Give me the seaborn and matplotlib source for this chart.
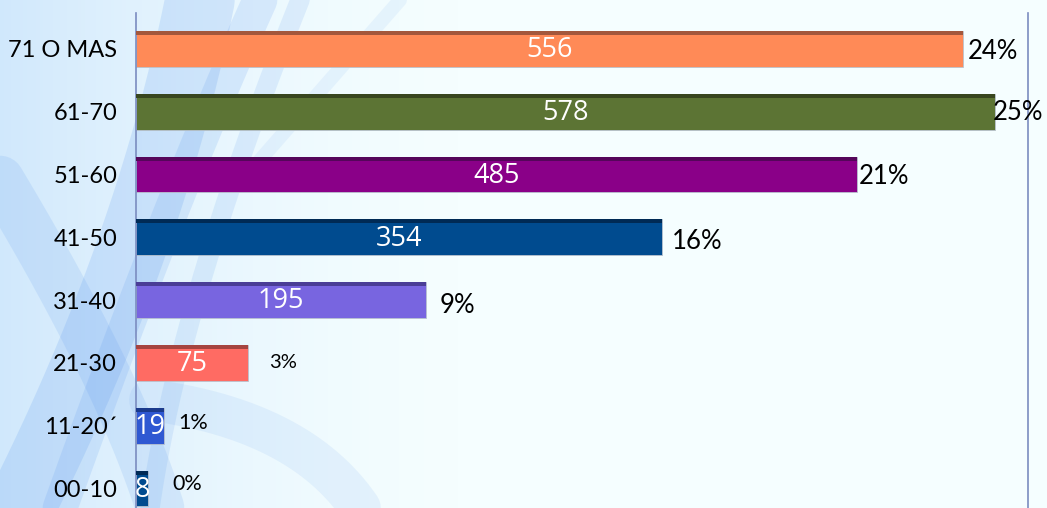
import matplotlib
matplotlib.use('Agg')
import matplotlib.pyplot as plt
import seaborn as sns
import numpy as np
import pandas as pd
from matplotlib.patches import Rectangle

# Data
categories = ['71 O MAS', '61-70', '51-60', '41-50', '31-40', '21-30', '11-20\u00b4', '00-10']
counts = [556, 578, 485, 354, 195, 75, 19, 8]
pct_labels = ['24%', '25%', '21%', '16%', '9%', '3%', '1%', '0%']

bar_colors = ['#FF8A57', '#5C7434', '#8A0088', '#004B8F', '#7865E0', '#FF6B63', '#2F58D2', '#004B8F']
top_colors = ['#A3573C', '#38461F', '#55065A', '#002A55', '#4A3D96', '#A54440', '#1B3A8C', '#002A55']
# nudge (pixels) of the percent labels from the bar end
pct_dx = [5, -3, 2, 10, 14, 22, 14, 24]
pct_dy = [-3, -1, -2, -4, -5, 0, 3, 5]
pct_size = [18.5, 18.5, 18.5, 18.5, 18.5, 14.5, 15.5, 15.5]

sns.set_style('white')
plt.rcParams['font.family'] = ['Lato', 'DejaVu Sans']

df = pd.DataFrame({'Edad': categories, 'Casos': counts})

fig = plt.figure(figsize=(10.47, 5.08), dpi=100)
fig.patch.set_facecolor('#F5FEFF')

# Decorative background: soft blue swirls on the left side
bg = fig.add_axes([0, 0, 1, 1], zorder=0)
bg.set_xlim(0, 1047)
bg.set_ylim(508, 0)
bg.axis('off')
fade = np.clip(1 - np.linspace(0, 1, 500), 0, 1) ** 1.8
rgba = np.zeros((10, 500, 4))
rgba[..., 0] = 0.55
rgba[..., 1] = 0.75
rgba[..., 2] = 0.97
rgba[..., 3] = 0.35 * fade
bg.imshow(rgba, extent=[0, 500, 508, 0], aspect='auto')
t = np.linspace(0, 1, 200)
swirls = [
    ((200, 0), (150, 250), (20, 508), 50, 0.16),
    ((260, 0), (170, 200), (60, 508), 25, 0.14),
    ((300, 0), (180, 300), (150, 508), 14, 0.12),
    ((0, 180), (120, 380), (160, 508), 35, 0.13),
    ((150, 400), (300, 420), (360, 508), 30, 0.09),
    ((400, 0), (330, 80), (260, 160), 10, 0.08),
]
for p0, p1, p2, lw, a in swirls:
    xs = (1 - t) ** 2 * p0[0] + 2 * (1 - t) * t * p1[0] + t ** 2 * p2[0]
    ys = (1 - t) ** 2 * p0[1] + 2 * (1 - t) * t * p1[1] + t ** 2 * p2[1]
    bg.plot(xs, ys, color='#4A8CEB', lw=lw, alpha=a, solid_capstyle='round')

ax = fig.add_axes([136 / 1047, 0.0, (1028 - 136) / 1047, 1 - 13 / 508], zorder=1)
ax.patch.set_alpha(0)

sns.barplot(data=df, x='Casos', y='Edad', hue='Edad', order=categories,
            hue_order=categories, palette=bar_colors, saturation=1, orient='h',
            width=0.57, legend=False, edgecolor='#B9C3CF', linewidth=0.6, ax=ax)

ax.set_xlim(0, 600)
ax.set_ylim(7.31, -0.573)

bars = [p for p in ax.patches if p.get_width() > 0]
bars.sort(key=lambda p: p.get_y())
for i, p in enumerate(bars):
    # darker strip along the top of each bar
    ax.add_patch(Rectangle((p.get_x(), p.get_y()), p.get_width(), p.get_height() * 0.11,
                           facecolor=top_colors[i], edgecolor='none', zorder=3))
    cy = p.get_y() + p.get_height() / 2
    ax.text(p.get_width() / 2, cy + 0.02, str(counts[i]), color='white', fontsize=19.5,
            family=['Open Sans', 'DejaVu Sans'], ha='center', va='center', zorder=4)
    ax.annotate(pct_labels[i], xy=(p.get_width(), cy), xytext=(pct_dx[i], pct_dy[i]),
                textcoords='offset pixels', ha='left', va='center',
                fontsize=pct_size[i], color='black', zorder=4)

ax.set_xlabel('')
ax.set_ylabel('')
ax.set_xticks([])
ax.tick_params(axis='y', length=0, pad=13.5, labelsize=17)
for lab in ax.get_yticklabels():
    lab.set_color('black')
for side in ['top', 'bottom']:
    ax.spines[side].set_visible(False)
for side in ['left', 'right']:
    ax.spines[side].set_visible(True)
    ax.spines[side].set_color('#7B8CC0')
    ax.spines[side].set_linewidth(1.2)

fig.savefig('out.png', dpi=100, facecolor=fig.get_facecolor())
